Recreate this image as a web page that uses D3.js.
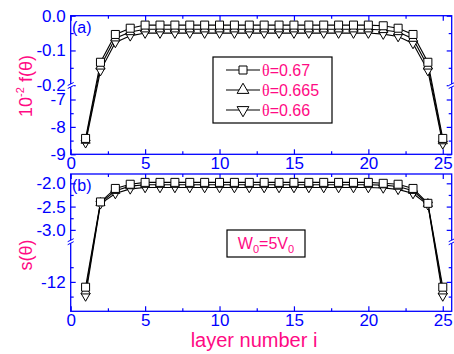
<!DOCTYPE html>
<html>
<head>
<meta charset="utf-8">
<script src="https://cdn.jsdelivr.net/npm/d3@7"></script>
<style>
  body { margin: 0; background: #fff; }
  svg { display: block; font-family: "Liberation Sans", Arial, sans-serif; }
  .tick text { fill: #0000ff; }
</style>
</head>
<body>
<svg id="chart" width="454" height="354"></svg>
<script>
var layers = d3.range(1, 26);

// panel (a): 10^-2 f(theta)
var fSq = [-8.42, -0.134, -0.054, -0.036, -0.027, -0.027, -0.027, -0.027, -0.027, -0.027, -0.027, -0.027,
  -0.027, -0.027, -0.027, -0.027, -0.027, -0.027, -0.027, -0.027, -0.029, -0.036, -0.054, -0.134, -8.42];
var fUp = [-8.50, -0.146, -0.065, -0.047, -0.039, -0.039, -0.039, -0.039, -0.039, -0.039, -0.039, -0.039,
  -0.039, -0.039, -0.039, -0.039, -0.039, -0.039, -0.039, -0.039, -0.041, -0.047, -0.066, -0.146, -8.52];
var fDn = [-8.58, -0.158, -0.077, -0.058, -0.050, -0.050, -0.050, -0.050, -0.050, -0.050, -0.050, -0.050,
  -0.050, -0.050, -0.050, -0.050, -0.050, -0.050, -0.050, -0.050, -0.053, -0.060, -0.080, -0.158, -8.62];

// panel (b): s(theta)
var sSq = [-12.09, -2.40, -2.11, -2.02, -1.98, -1.98, -1.98, -1.98, -1.98, -1.98, -1.98, -1.98,
  -1.98, -1.98, -1.98, -1.98, -1.98, -1.98, -1.98, -1.98, -2.00, -2.02, -2.11, -2.43, -12.09];
var sUp = [-12.16, -2.42, -2.16, -2.06, -2.03, -2.03, -2.03, -2.03, -2.03, -2.03, -2.03, -2.03,
  -2.03, -2.03, -2.03, -2.03, -2.03, -2.03, -2.03, -2.03, -2.04, -2.07, -2.16, -2.44, -12.16];
var sDn = [-12.24, -2.44, -2.22, -2.12, -2.09, -2.09, -2.09, -2.09, -2.09, -2.09, -2.09, -2.09,
  -2.09, -2.09, -2.09, -2.09, -2.09, -2.09, -2.09, -2.09, -2.10, -2.13, -2.22, -2.46, -12.24];

var seriesNames = ["0.67", "0.665", "0.66"];
var xTicks = [0, 5, 10, 15, 20, 25];

var blue = "#0000ff", pink = "#ff0a84";
var svg = d3.select("#chart");
var left = 70.7, right = 451.7;

// plain hyphen minus like the original
function fmt(spec) {
  var f = d3.format(spec);
  return function(d) { return f(d).replace("\u2212", "-"); };
}

var x = d3.scaleLinear().domain([0, 25.6]).range([left, right]);

// broken y scales: upper and lower pieces
var panels = [
  {
    top: 15.7, bottom: 154.3, brk: 85.5, label: "(a)", labelY: 33,
    upper: d3.scaleLinear().domain([-0.2, 0]).range([85.2, 15.7]),
    lower: d3.scaleLinear().domain([-9, -6.5]).range([154.3, 85.8]),
    cut: -1,
    upTicks: [0, -0.1, -0.2], upMinor: [-0.05, -0.15], upFmt: fmt(".1f"),
    loTicks: [-9, -8, -7], loMinor: [-8.5, -7.5], loFmt: fmt("d"),
    series: [fDn, fUp, fSq]
  },
  {
    top: 174, bottom: 311.3, brk: 241.7, label: "(b)", labelY: 191,
    upper: d3.scaleLinear().domain([-3.25, -1.8]).range([241.5, 174]),
    lower: d3.scaleLinear().domain([-12.5, -11.32]).range([311.3, 241.9]),
    cut: -5,
    upTicks: [-2.0, -2.5, -3.0], upMinor: [-2.25, -2.75], upFmt: fmt(".1f"),
    loTicks: [-12], loMinor: [-12.25, -11.75], loFmt: fmt("d"),
    series: [sDn, sUp, sSq]
  }
];

var symbols = [
  {type: d3.symbolTriangle, size: 36, rot: 180},
  {type: d3.symbolTriangle, size: 36, rot: 0},
  {type: d3.symbolSquare, size: 64, rot: 0}
];

panels.forEach(function(p) {
  var y = function(v) { return v > p.cut ? p.upper(v) : p.lower(v); };
  var g = svg.append("g");

  // frame
  g.append("rect")
    .attr("x", left).attr("y", p.top)
    .attr("width", right - left).attr("height", p.bottom - p.top)
    .attr("fill", "none").attr("stroke", blue).attr("stroke-width", 1.3);

  // x axes (bottom with labels, top mirrored)
  var xb = g.append("g").attr("transform", "translate(0," + p.bottom + ")")
    .call(d3.axisBottom(x).tickValues(xTicks).tickSize(-5).tickSizeOuter(0).tickPadding(3));
  xb.selectAll("text").attr("font-size", 17).attr("font-family", "Liberation Sans, Arial, sans-serif");
  g.append("g").attr("transform", "translate(0," + p.bottom + ")")
    .call(d3.axisBottom(x).tickValues([2.5, 7.5, 12.5, 17.5, 22.5]).tickSize(-3).tickSizeOuter(0).tickFormat(""));
  g.append("g").attr("transform", "translate(0," + p.top + ")")
    .call(d3.axisTop(x).tickValues(xTicks).tickSize(-5).tickSizeOuter(0).tickFormat(""));
  g.append("g").attr("transform", "translate(0," + p.top + ")")
    .call(d3.axisTop(x).tickValues([2.5, 7.5, 12.5, 17.5, 22.5]).tickSize(-3).tickSizeOuter(0).tickFormat(""));

  // y axes, both pieces, left labelled, right mirrored
  [[p.upper, p.upTicks, p.upMinor, p.upFmt], [p.lower, p.loTicks, p.loMinor, p.loFmt]].forEach(function(s) {
    var yl = g.append("g").attr("transform", "translate(" + left + ",0)")
      .call(d3.axisLeft(s[0]).tickValues(s[1]).tickFormat(s[3]).tickSize(-5).tickSizeOuter(0).tickPadding(5));
    yl.selectAll("text").attr("font-size", 17).attr("font-family", "Liberation Sans, Arial, sans-serif");
    g.append("g").attr("transform", "translate(" + left + ",0)")
      .call(d3.axisLeft(s[0]).tickValues(s[2]).tickFormat("").tickSize(-3).tickSizeOuter(0));
    g.append("g").attr("transform", "translate(" + right + ",0)")
      .call(d3.axisRight(s[0]).tickValues(s[1]).tickFormat("").tickSize(-5).tickSizeOuter(0));
    g.append("g").attr("transform", "translate(" + right + ",0)")
      .call(d3.axisRight(s[0]).tickValues(s[2]).tickFormat("").tickSize(-3).tickSizeOuter(0));
  });
  g.selectAll(".domain").remove();
  g.selectAll(".tick line").attr("stroke", blue).attr("stroke-width", 1.2);

  // break marks
  [left, right].forEach(function(ax) {
    g.append("rect").attr("x", ax - 3).attr("y", p.brk - 1.5).attr("width", 6).attr("height", 3).attr("fill", "#fff");
    [-1.5, 1.5].forEach(function(d) {
      g.append("line")
        .attr("x1", ax - 3).attr("y1", p.brk + d + 1.5)
        .attr("x2", ax + 3).attr("y2", p.brk + d - 1.5)
        .attr("stroke", blue).attr("stroke-width", 1);
    });
  });

  // series lines + markers
  p.series.forEach(function(vals) {
    var line = d3.line().x(function(d, i) { return x(layers[i]); }).y(function(d) { return y(d); });
    g.append("path").datum(vals).attr("d", line)
      .attr("fill", "none").attr("stroke", "#000").attr("stroke-width", 1.1);
  });
  p.series.forEach(function(vals, k) {
    var sym = symbols[k];
    g.selectAll(null).data(vals).enter().append("path")
      .attr("d", d3.symbol().type(sym.type).size(sym.size))
      .attr("transform", function(d, i) {
        return "translate(" + x(layers[i]) + "," + y(d) + ") rotate(" + sym.rot + ")";
      })
      .attr("fill", "#fff").attr("stroke", "#000").attr("stroke-width", 1);
  });

  g.append("text").attr("x", 72).attr("y", p.labelY)
    .attr("fill", blue).attr("font-size", 16).text(p.label);
});

// legend
var lg = svg.append("g");
lg.append("rect").attr("x", 213).attr("y", 57).attr("width", 119).attr("height", 66)
  .attr("fill", "#fff").attr("stroke", "#000").attr("stroke-width", 1.2);
[2, 1, 0].forEach(function(k, r) {
  var yy = 70 + r * 20;
  lg.append("line").attr("x1", 226).attr("x2", 260).attr("y1", yy).attr("y2", yy)
    .attr("stroke", "#000").attr("stroke-width", 1.1);
  var sym = symbols[k];
  lg.append("path").attr("d", d3.symbol().type(sym.type).size(sym.size === 64 ? 64 : 60))
    .attr("transform", "translate(243," + yy + ") rotate(" + sym.rot + ")")
    .attr("fill", "#fff").attr("stroke", "#000");
  var t = lg.append("text").attr("x", 262).attr("y", yy + 6).attr("fill", pink).attr("font-size", 16);
  t.append("tspan").attr("font-family", "Liberation Serif, serif").text("θ");
  t.append("tspan").text("=" + seriesNames[r]);
});

// W0=5V0 box
svg.append("rect").attr("x", 227).attr("y", 230).attr("width", 78).attr("height", 27)
  .attr("fill", "#fff").attr("stroke", "#000").attr("stroke-width", 1.2);
var w = svg.append("text").attr("x", 266).attr("y", 249).attr("text-anchor", "middle")
  .attr("fill", pink).attr("font-size", 16);
w.append("tspan").text("W");
w.append("tspan").attr("font-size", 11).attr("dy", 4).text("0");
w.append("tspan").attr("dy", -4).text("=5V");
w.append("tspan").attr("font-size", 11).attr("dy", 4).text("0");

// axis titles
var yt = svg.append("text").attr("transform", "translate(32,86) rotate(-90)")
  .attr("text-anchor", "middle").attr("fill", pink).attr("font-size", 18);
yt.append("tspan").text("10");
yt.append("tspan").attr("font-size", 11).attr("dy", -8).text("-2");
yt.append("tspan").attr("dy", 8).text(" f(θ)");

svg.append("text").attr("transform", "translate(32,255) rotate(-90)")
  .attr("text-anchor", "middle").attr("fill", pink).attr("font-size", 18).text("s(θ)");

svg.append("text").attr("x", 254).attr("y", 347).attr("text-anchor", "middle")
  .attr("fill", pink).attr("font-size", 20).text("layer number i");
</script>
</body>
</html>
